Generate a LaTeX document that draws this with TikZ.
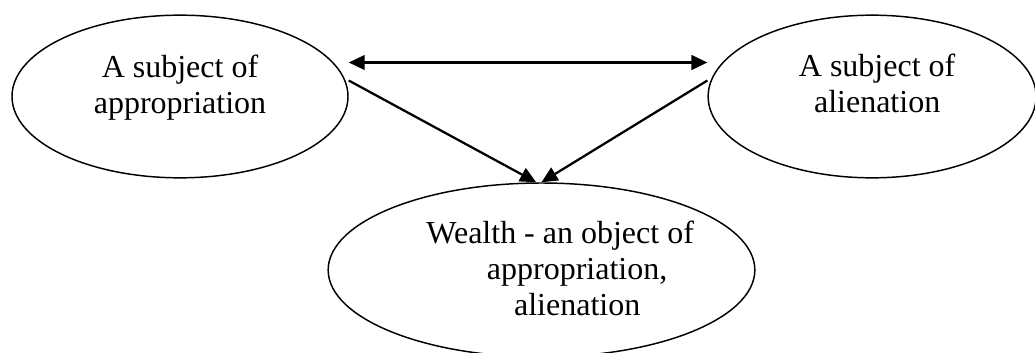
\documentclass[tikz,border=0pt]{standalone}
\usepackage{fontspec}
\setmainfont{Liberation Serif}
\usepackage{tikz}
\usetikzlibrary{positioning,arrows.meta,shapes.geometric}
\tikzset{
  oval/.style = {ellipse, draw=black, line width=1.1pt, inner sep=0pt,
                 minimum height=122pt},
  txt/.style  = {align=center, inner sep=0pt,
                 font=\fontsize{24}{27}\selectfont},
  link/.style = {-{Triangle[length=12pt,width=11pt]}, line width=1.7pt},
  twoway/.style = {{Triangle[length=12pt,width=11pt]}-{Triangle[length=12pt,width=11pt]},
                 line width=1.7pt},
}

\begin{document}
\begin{tikzpicture}[x=0.75pt, y=-0.75pt]
  \useasboundingbox (0,0) rectangle (1035,353);

  \node[oval, minimum width=252pt] (appr) at (180,96.5) {};
  \node[oval, minimum width=246pt, right=269pt of appr] (alien) {};
  \node[oval, minimum width=320pt, minimum height=130.5pt] (wealth) at (541.5,270) {};

  \node[txt] (appr-txt)   at ([yshift=7pt]appr.center) {A subject of\\appropriation};
  \node[txt] (alien-txt)  at ([xshift=3.75pt,yshift=9.5pt]alien.center) {A subject of\\alienation};
  \node[txt] (wealth-txt) at ([xshift=14pt,yshift=1.5pt]wealth.center)
    {Wealth - an object of\\\hspace*{25.5pt}appropriation,\\\hspace*{25.5pt}alienation};

  \draw[twoway] ([yshift=25.5pt]appr.east) -- ([yshift=25.5pt]alien.west);
  \draw[link] ([yshift=12pt]appr.east) -- ([xshift=-4pt]wealth.north);
  \draw[link] ([yshift=12pt]alien.west) -- ([xshift=0pt]wealth.north);
\end{tikzpicture}
\end{document}
